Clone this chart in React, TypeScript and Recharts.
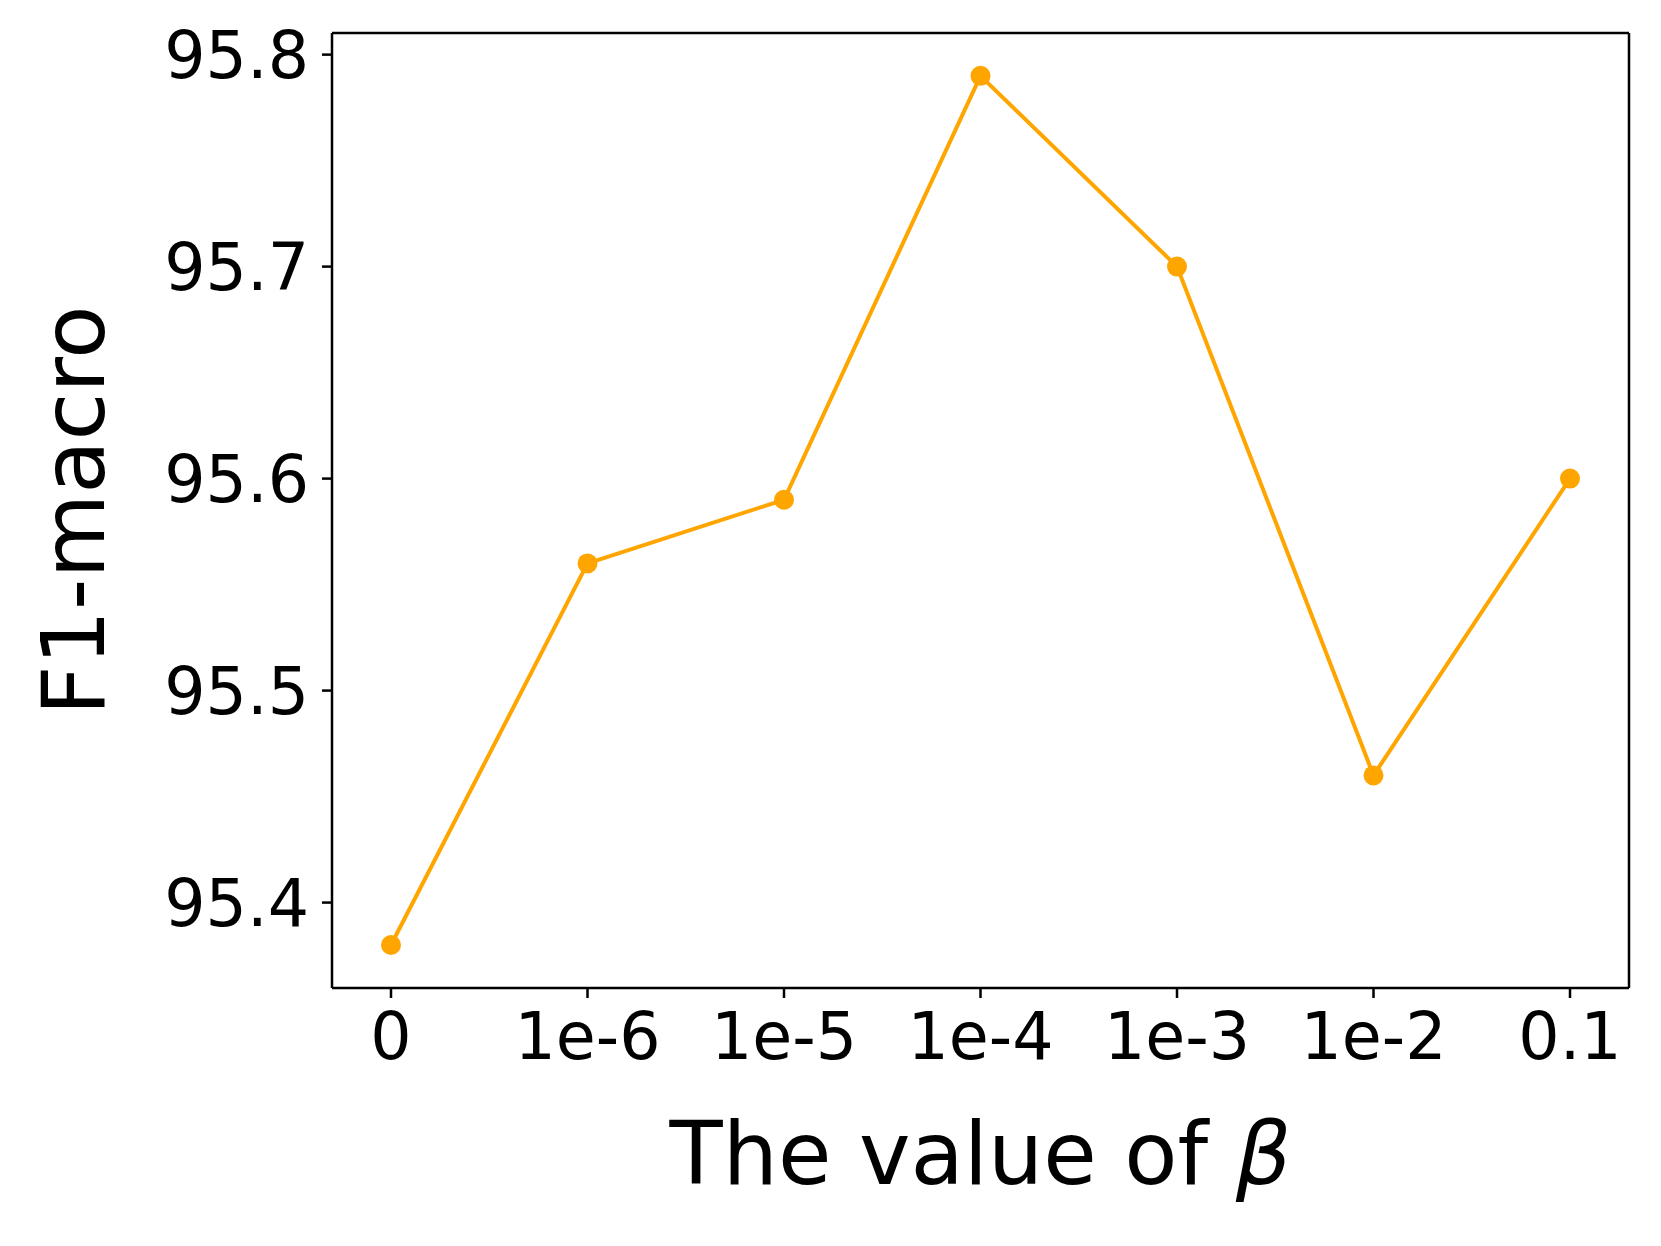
import React from "react";
import { LineChart, Line, XAxis, YAxis } from "recharts";

const betaLabels = ["0", "1e-6", "1e-5", "1e-4", "1e-3", "1e-2", "0.1"];
const f1Macro = [95.38, 95.56, 95.59, 95.79, 95.7, 95.46, 95.6];
const yTicks = [95.4, 95.5, 95.6, 95.7, 95.8];
const yDomain = [95.3597, 95.8102];

const data = betaLabels.map((name, i) => ({ name, value: f1Macro[i] }));

const FONT = "DejaVu Sans, sans-serif";

const XLabel = (props: any) => {
  const { viewBox } = props;
  const cx = viewBox.x + viewBox.width / 2;
  return (
    <text x={cx} y={viewBox.y + 196} textAnchor="middle" fontSize={87} fontFamily={FONT} fill="#000">
      The value of <tspan fontStyle="italic">β</tspan>
    </text>
  );
};

const YLabel = (props: any) => {
  const { viewBox } = props;
  const cy = viewBox.y + viewBox.height / 2;
  const x = viewBox.x + 104;
  return (
    <text
      x={x}
      y={cy}
      textAnchor="middle"
      fontSize={87}
      fontFamily={FONT}
      fill="#000"
      transform={`rotate(-90, ${x}, ${cy})`}
    >
      F1-macro
    </text>
  );
};

const axisStyle = { stroke: "#000", strokeWidth: 2.5 };

export default function App() {
  return (
    <div style={{ position: "absolute", left: 0, top: 0, background: "#fff" }}>
      <LineChart width={1661} height={1246} data={data} margin={{ top: 32, right: 31, left: 0, bottom: 0 }}>
        <XAxis
          dataKey="name"
          height={258}
          padding={{ left: 59, right: 59 }}
          axisLine={axisStyle}
          tickLine={axisStyle}
          tickSize={10}
          tickMargin={15}
          tick={{ fill: "#000", fontSize: 65, fontFamily: FONT }}
          interval={0}
          label={<XLabel />}
        />
        <XAxis
          xAxisId="top"
          dataKey="name"
          orientation="top"
          height={1}
          padding={{ left: 59, right: 59 }}
          tick={false}
          tickLine={false}
          axisLine={axisStyle}
        />
        <YAxis
          type="number"
          width={332}
          domain={yDomain}
          allowDataOverflow
          ticks={yTicks}
          tickFormatter={(v: number) => v.toFixed(1)}
          axisLine={axisStyle}
          tickLine={axisStyle}
          tickSize={10}
          tickMargin={13}
          tick={{ fill: "#000", fontSize: 65, fontFamily: FONT }}
          label={<YLabel />}
        />
        <YAxis
          yAxisId="right"
          orientation="right"
          width={1}
          domain={yDomain}
          allowDataOverflow
          tick={false}
          tickLine={false}
          axisLine={axisStyle}
        />
        <Line
          type="linear"
          dataKey="value"
          stroke="#FFA500"
          strokeWidth={4}
          dot={{ r: 10, fill: "#FFA500", stroke: "none" }}
          activeDot={false}
          isAnimationActive={false}
        />
      </LineChart>
    </div>
  );
}
